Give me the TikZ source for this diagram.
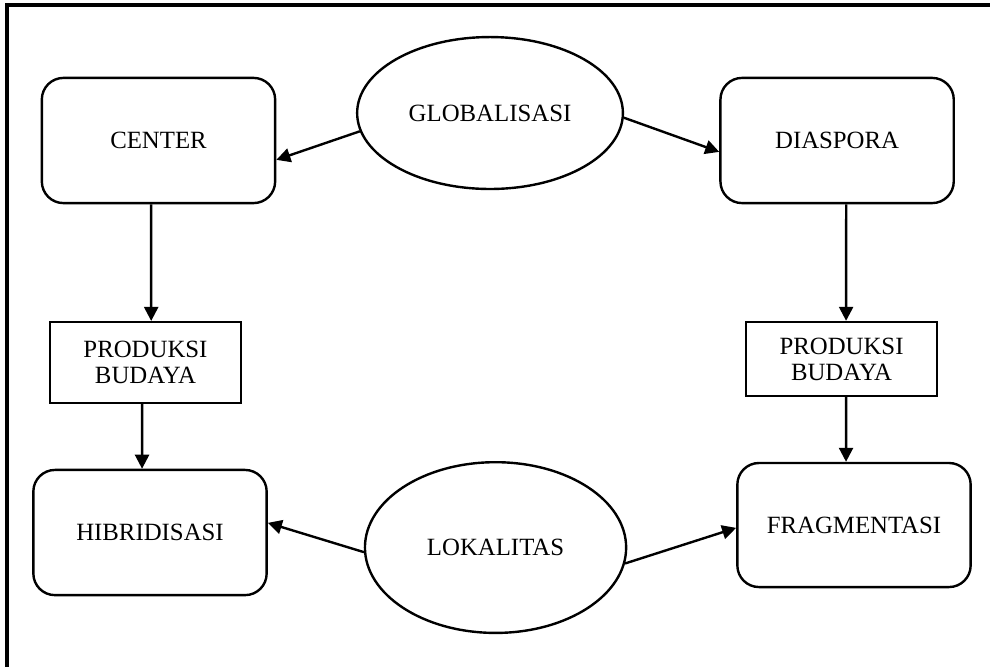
\documentclass[tikz,border=0pt]{standalone}
\usepackage{fontspec}
\setmainfont{Liberation Serif}
\usepackage{tikz}
\usetikzlibrary{arrows.meta,shapes.geometric}
\definecolor{ink}{HTML}{000000}
\tikzset{
  frame/.style={draw=ink, line width=1.6pt},
  rbox/.style={draw=ink, line width=1.2pt, rounded corners=0.38cm, minimum width=4.1cm, minimum height=2.2cm, font=\fontsize{12.4}{13}\selectfont},
  pbox/.style={draw=ink, line width=1.2pt, minimum width=3.36cm, align=center, font=\fontsize{12.4}{13}\selectfont},
  oval/.style={draw=ink, ellipse, line width=1.2pt, inner sep=0pt, font=\fontsize{12.4}{13}\selectfont},
  arr/.style={draw=ink, line width=1.2pt, -{Triangle[length=7pt,width=7pt]}}
}

\begin{document}
\begin{tikzpicture}[scale=1.0]
  \useasboundingbox (0,0) rectangle (17.397,11.704);
  \clip (0,0) rectangle (17.397,11.704);

  % outer frame, cut at right and bottom
  \draw[frame] (0.123,-1) -- (0.123,11.616) -- (18.5,11.616);

  \node[oval, minimum width=4.67cm, minimum height=2.67cm] (glob) at (8.611,9.718) {GLOBALISASI};
  \node[oval, minimum width=4.59cm, minimum height=3.0cm] (lok) at (8.708,2.082) {LOKALITAS};

  \node[rbox] (center) at (2.785,9.235) {CENTER};
  \node[rbox] (diaspora) at (14.71,9.235) {DIASPORA};
  \node[rbox] (hibrid) at (2.636,2.346) {HIBRIDISASI};
  \node[rbox, minimum height=2.18cm] (fragmen) at (15.007,2.478) {FRAGMENTASI};

  \node[pbox, minimum height=1.42cm] (prodl) at (2.557,5.333) {PRODUKSI\\BUDAYA};
  \node[pbox, minimum height=1.30cm] (prodr) at (14.788,5.395) {PRODUKSI\\BUDAYA};

  \draw[arr] (glob.188) -- ([yshift=-0.34cm]center.east);
  \draw[arr] (glob.358) -- ([yshift=-0.2cm]diaspora.west);
  \draw[arr] ([xshift=-0.13cm]center.south) -- ([xshift=0.1cm]prodl.north);
  \draw[arr] ([xshift=0.16cm]diaspora.south) -- ([xshift=0.08cm]prodr.north);
  \draw[arr] ([xshift=-0.06cm]prodl.south) -- ([xshift=-0.14cm]hibrid.north);
  \draw[arr] ([xshift=0.08cm]prodr.south) -- ([xshift=-0.14cm]fragmen.north);
  \draw[arr] (lok.182) -- ([yshift=0.17cm]hibrid.east);
  \draw[arr] (lok.353) -- ([yshift=-0.05cm]fragmen.west);
\end{tikzpicture}
\end{document}
